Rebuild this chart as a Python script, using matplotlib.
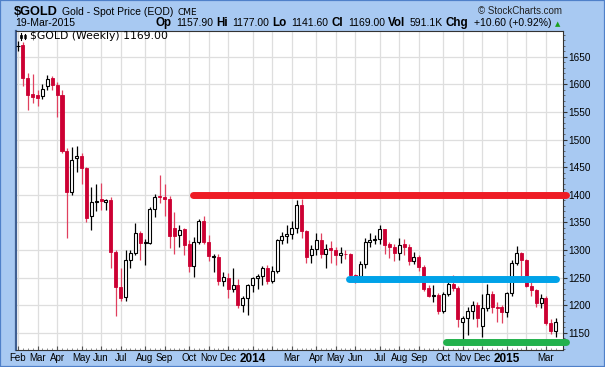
import matplotlib
matplotlib.use("Agg")
import matplotlib.pyplot as plt
import numpy as np
import pandas as pd
from matplotlib.patches import Rectangle
from matplotlib.lines import Line2D
from matplotlib.ticker import MultipleLocator, FixedLocator

# ---------------- data (weekly candles, week starting Monday) ----------------
start_week = "2013-02-04"
opens = [1669, 1672, 1611, 1582, 1580, 1578, 1597, 1611, 1599, 1581,
         1480, 1405, 1466, 1470, 1448, 1362, 1387, 1393, 1386, 1390,
         1297, 1232, 1214, 1282, 1294, 1331, 1313, 1313, 1374, 1398,
         1396, 1393, 1340, 1327, 1337, 1310, 1271, 1315, 1352, 1314,
         1288, 1288, 1243, 1250, 1229, 1237, 1201, 1212, 1236, 1249,
         1252, 1267, 1244, 1262, 1318, 1325, 1328, 1339, 1382, 1334,
         1290, 1301, 1318, 1293, 1303, 1300, 1291, 1293, 1293, 1254,
         1253, 1275, 1315, 1318, 1320, 1337, 1311, 1305, 1294, 1311,
         1306, 1280, 1287, 1269, 1231, 1216, 1218, 1190, 1221, 1238,
         1231, 1170, 1177, 1190, 1200, 1162, 1194, 1221, 1197, 1196,
         1187, 1222, 1277, 1294, 1281, 1234, 1227, 1204, 1213, 1167,
         1153]
highs = [1678, 1676, 1620, 1618, 1590, 1600, 1617, 1615, 1605, 1590,
         1485, 1486, 1488, 1475, 1450, 1414, 1420, 1422, 1392, 1395,
         1300, 1267, 1300, 1300, 1348, 1335, 1320, 1378, 1402, 1436,
         1420, 1397, 1368, 1345, 1340, 1318, 1323, 1356, 1362, 1327,
         1292, 1293, 1260, 1258, 1267, 1248, 1216, 1238, 1251, 1256,
         1270, 1272, 1270, 1320, 1332, 1345, 1352, 1390, 1392, 1336,
         1308, 1331, 1331, 1310, 1316, 1305, 1306, 1300, 1295, 1256,
         1280, 1322, 1330, 1327, 1346, 1338, 1314, 1310, 1322, 1320,
         1310, 1297, 1290, 1272, 1237, 1236, 1222, 1224, 1246, 1255,
         1234, 1180, 1197, 1208, 1205, 1221, 1238, 1225, 1205, 1200,
         1224, 1282, 1307, 1297, 1283, 1246, 1230, 1220, 1217, 1175,
         1177]
lows = [1660, 1597, 1554, 1566, 1561, 1573, 1590, 1590, 1540, 1476,
        1321, 1400, 1442, 1420, 1350, 1336, 1370, 1372, 1372, 1268,
        1180, 1207, 1207, 1268, 1290, 1282, 1272, 1310, 1360, 1385,
        1362, 1303, 1292, 1305, 1291, 1260, 1251, 1310, 1310, 1280,
        1260, 1237, 1234, 1212, 1224, 1195, 1188, 1182, 1223, 1230,
        1236, 1238, 1240, 1258, 1311, 1312, 1320, 1330, 1321, 1277,
        1276, 1290, 1285, 1268, 1277, 1272, 1276, 1284, 1250, 1240,
        1249, 1268, 1305, 1310, 1310, 1292, 1285, 1280, 1282, 1290,
        1273, 1275, 1262, 1226, 1214, 1206, 1183, 1185, 1216, 1226,
        1160, 1132, 1145, 1175, 1161, 1142, 1190, 1186, 1170, 1168,
        1178, 1216, 1272, 1250, 1232, 1216, 1197, 1194, 1164, 1147,
        1142]
closes = [1669, 1611, 1581, 1577, 1576, 1591, 1609, 1598, 1581, 1480,
          1405, 1462, 1470, 1448, 1358, 1386, 1389, 1389, 1390, 1297,
          1232, 1213, 1282, 1294, 1331, 1313, 1314, 1374, 1395, 1396,
          1393, 1326, 1326, 1336, 1309, 1271, 1315, 1352, 1314, 1289,
          1288, 1243, 1250, 1229, 1237, 1201, 1212, 1236, 1249, 1253,
          1268, 1244, 1262, 1318, 1325, 1328, 1339, 1382, 1334, 1288,
          1301, 1318, 1293, 1302, 1300, 1291, 1294, 1292, 1254, 1253,
          1275, 1315, 1318, 1320, 1337, 1309, 1306, 1294, 1309, 1306,
          1280, 1287, 1269, 1230, 1216, 1218, 1190, 1221, 1238, 1231,
          1174, 1177, 1190, 1200, 1177, 1194, 1221, 1196, 1195, 1187,
          1222, 1277, 1294, 1281, 1235, 1227, 1204, 1213, 1167, 1153,
          1169]

y_ticks = [1150, 1200, 1250, 1300, 1350, 1400, 1450, 1500, 1550, 1600, 1650]
resistance_level = 1399
mid_level = 1247
support_level = 1133
resistance_span = (35.7, 112.05)
mid_span = (67.7, 110.0)
support_span = (87.6, 112.05)

# ---------------- figure ----------------
W, H = 605, 367
fig = plt.figure(figsize=(W / 100, H / 100), dpi=100)
bg = "#a8c9f2"
fig.patch.set_facecolor(bg)

def fx(x):
    return x / W

def fy(y):
    return 1 - y / H

ax_left, ax_right, ax_top, ax_bot = 15.5, 563, 31, 350
ax = fig.add_axes([fx(ax_left), fy(ax_bot), (ax_right - ax_left) / W, (ax_bot - ax_top) / H])
ax.set_facecolor("white")

n = len(opens)
dates = pd.date_range(start_week, periods=n, freq="W-MON")
x = np.arange(n)
O = np.array(opens, float)
Hh = np.array(highs, float)
L = np.array(lows, float)
C = np.array(closes, float)

up = C >= O
red = "#cc0033"
wick_red = "#e0405f"
wick_cols = np.where(up, "black", wick_red)
ax.vlines(x, L, Hh, colors=wick_cols, linewidth=0.9, zorder=3)
bw = 0.62
body_bottom = np.minimum(O, C)
body_h = np.maximum(np.abs(C - O), 0.3)
ax.bar(x[up], body_h[up], bottom=body_bottom[up], width=bw, facecolor="white",
       edgecolor="black", linewidth=0.8, zorder=4)
ax.bar(x[~up], body_h[~up], bottom=body_bottom[~up], width=bw, facecolor=red,
       edgecolor=red, linewidth=0.6, zorder=4)

# horizontal annotation lines
for lvl, span, col in [(resistance_level, resistance_span, "#ee1c25"),
                       (mid_level, mid_span, "#00a2e8"),
                       (support_level, support_span, "#22b14c")]:
    ax.plot(span, [lvl, lvl], color=col, linewidth=5.0, solid_capstyle="round",
            clip_on=False, zorder=6)

# axes limits: px = 18 + i*4.888 ; price px mapping
ax.set_xlim((ax_left - 18) / 4.888, (ax_right - 18) / 4.888)
ax.set_ylim(1650 - (ax_bot - 56.7) / 0.552, 1650 + (56.7 - ax_top) / 0.552)

# month ticks
month_idx = [0] + [i for i in range(1, n) if dates[i].month != dates[i - 1].month]
labels = []
for i in month_idx:
    d = dates[i]
    if d.month == 1:
        labels.append(str(d.year))
    elif d.month == 2 and i != 0:
        labels.append("")
    else:
        labels.append(d.strftime("%b"))
ax.xaxis.set_major_locator(FixedLocator(month_idx))
ax.set_xticklabels(labels)
for t, lab in zip(ax.get_xticklabels(), labels):
    t.set_fontfamily(["Liberation Sans Narrow", "Liberation Sans", "DejaVu Sans"])
    if lab.isdigit():
        t.set_fontweight("bold")
        t.set_fontsize(8.5)
    else:
        t.set_fontsize(7)
ax.xaxis.set_minor_locator(FixedLocator(list(x)))
ax.tick_params(axis="x", which="major", direction="in", length=3, pad=2.5, color="#555555")
ax.tick_params(axis="x", which="minor", direction="in", length=1.5, color="#777777")

ax.yaxis.tick_right()
ax.set_yticks(y_ticks)
ax.set_yticklabels([str(v) for v in y_ticks], fontsize=7.2, fontfamily="Liberation Sans")
ax.yaxis.set_minor_locator(MultipleLocator(10))
ax.tick_params(axis="y", which="major", direction="out", length=3, pad=1, color="#333333")
ax.tick_params(axis="y", which="minor", direction="out", length=1.5, color="#555555")
ax.grid(True, which="major", color="#dedede", linewidth=0.9, zorder=0)
ax.set_axisbelow(True)

for s in ["top", "right", "bottom"]:
    ax.spines[s].set_color("#333333")
    ax.spines[s].set_linewidth(0.8)
ax.spines["left"].set_color("#3f5f92")
ax.spines["left"].set_linewidth(1.6)

# ---------------- header ----------------
fig.text(fx(14), fy(15), "$GOLD", fontsize=9.2, fontweight="bold",
         fontfamily="Liberation Sans", va="baseline", ha="left")
fig.text(fx(62), fy(15), "Gold - Spot Price (EOD)", fontsize=7.5,
         fontfamily="Liberation Sans", va="baseline", ha="left")
fig.text(fx(178), fy(15), "CME", fontsize=6.5, fontfamily="DejaVu Sans",
         va="baseline", ha="left")
fig.text(fx(562), fy(14), "\u00a9 StockCharts.com", fontsize=7,
         fontfamily="Liberation Sans", va="baseline", ha="right", color="#222222")
fig.text(fx(15), fy(26), "19-Mar-2015", fontsize=7.5,
         fontfamily="Liberation Sans", va="baseline", ha="left")

segments = [("Op", True), ("1157.90", False), ("Hi", True), ("1177.00", False),
            ("Lo", True), ("1141.60", False), ("Cl", True), ("1169.00", False),
            ("Vol", True), ("591.1K", False), ("Chg", True), ("+10.60 (+0.92%)", False)]
renderer = fig.canvas.get_renderer()
xr = 551.0
for k in range(len(segments) - 1, -1, -1):
    txt, bold = segments[k]
    t = fig.text(fx(xr), fy(26), txt, fontsize=8.4 if bold else 7.5,
                 fontweight="bold" if bold else "normal",
                 fontfamily="Liberation Sans", va="baseline", ha="right")
    w = t.get_window_extent(renderer).width
    xr -= w
    xr -= 2.8 if bold else 5.0
fig.text(fx(558), fy(24.5), "\u25b2", fontsize=5, color="#1aa01a",
         fontfamily="DejaVu Sans", va="center", ha="center")

# legend inside plot
fig.text(fx(30.5), fy(36), "$GOLD (Weekly) 1169.00", fontsize=7.8,
         fontfamily="DejaVu Sans", va="center", ha="left")
for (x0, y0, y1) in [(21, 32.5, 39.5), (25, 33.5, 38.5)]:
    fig.add_artist(Line2D([fx(x0), fx(x0)], [fy(y1), fy(y0)], color="black", lw=0.8))
fig.add_artist(Rectangle((fx(20), fy(38)), 2 / W, 3.5 / H, facecolor="black",
                         edgecolor="black", lw=0.5))
fig.add_artist(Rectangle((fx(24), fy(37.5)), 2 / W, 3 / H, facecolor="white",
                         edgecolor="black", lw=0.5))

# outer border
fig.add_artist(Rectangle((0, 0), 1, 1, transform=fig.transFigure, fill=False,
                         edgecolor="#4f80c9", lw=1.6))

fig.savefig("out.png", dpi=100, facecolor=fig.get_facecolor())
